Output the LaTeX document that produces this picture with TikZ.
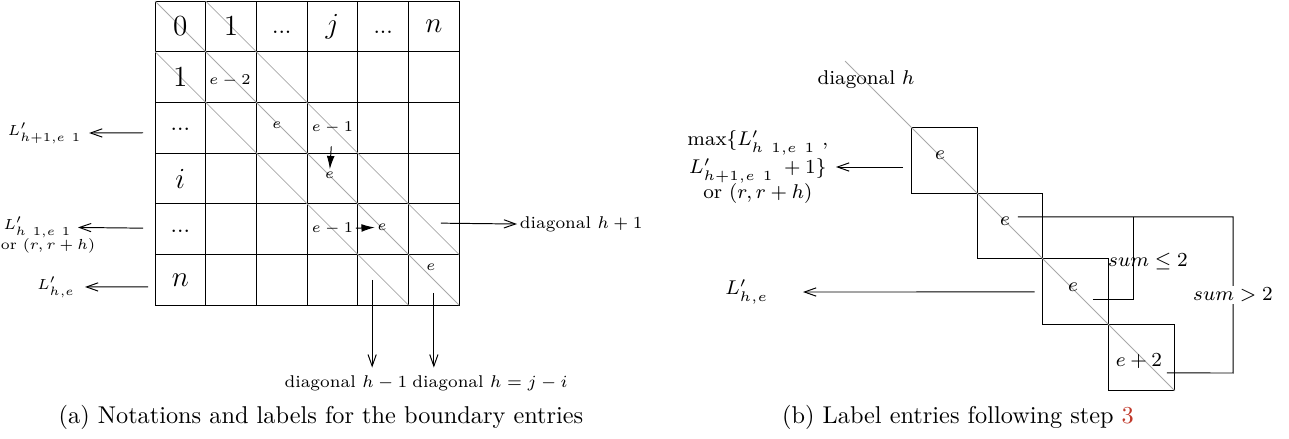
\RequirePackage{fix-cm}
\documentclass[tikz,border=0pt]{standalone}
\usepackage{xcolor}
\usepackage{tikz}
\usetikzlibrary{arrows.meta,positioning,calc}
\definecolor{diaggray}{HTML}{A8A8A8}
\definecolor{linkred}{HTML}{C0392B}
\newcommand{\nogap}{\mkern7mu}
\tikzset{%
  gridcell/.style={draw,minimum size=7.33mm,inner sep=0pt,outer sep=0pt},
  bigentry/.style={font=\fontsize{12}{14}\selectfont},
  dotsentry/.style={font=\fontsize{9.5}{11}\selectfont,inner sep=0pt},
  smallentry/.style={font=\fontsize{6.2}{8}\selectfont,inner sep=1pt},
  sidelabel/.style={font=\fontsize{6}{7.5}\selectfont,inner sep=1pt},
  diaglabel/.style={font=\fontsize{7}{9}\selectfont,inner xsep=1pt,inner ysep=3pt},
  stepbox/.style={draw,minimum size=9.54mm,inner sep=0pt,outer sep=0pt},
  boxentry/.style={font=\fontsize{8.2}{10}\selectfont,inner sep=1pt},
  diagonalline/.style={draw=diaggray,line width=0.3pt},
  openarrow/.style={-{Straight Barb[length=4.8pt,width=3.4pt]}},
  fillarrow/.style={-{Latex[length=5.5pt,width=3.2pt]}},
  captiontext/.style={font=\fontsize{10}{12}\selectfont}
}
\begin{document}
\begin{tikzpicture}[x=0.1446mm,y=-0.1446mm]
  \useasboundingbox (0,0) rectangle (1289,438);

  % (a) the table
  \foreach \r in {0,...,5}
    \foreach \c in {0,...,5}
      \node[gridcell] (c-\r-\c) at ({155+50.7*(\c+0.5)},{1+50.7*(\r+0.5)}) {};
  \draw[diagonalline] (c-0-0.north west) -- (c-5-5.south east);
  \draw[diagonalline] (c-0-1.north west) -- (c-4-5.south east);
  \draw[diagonalline] (c-1-0.north west) -- (c-5-4.south east);

  \foreach \c/\t in {0/$0$,1/$1$,3/$j$,5/$n$}
    \node[bigentry] (top-\c) at (c-0-\c) {\t};
  \foreach \c in {2,4}
    \node[dotsentry] (topdots-\c) at ([shift={(0,6)}]c-0-\c) {...};
  \foreach \r/\t in {1/$1$,3/$i$,5/$n$}
    \node[bigentry] (left-\r) at (c-\r-0) {\t};
  \foreach \r in {2,4}
    \node[dotsentry] (leftdots-\r) at ([shift={(0,2)}]c-\r-0) {...};

  \node[smallentry] (e11) at ([shift={(-1,4)}]c-1-1) {$e-2$};
  \node[smallentry] (e22) at ([shift={(-5,-3)}]c-2-2) {$e$};
  \node[smallentry] (e23) at (c-2-3) {$e-1$};
  \node[smallentry] (e33) at ([shift={(-3,-3)}]c-3-3) {$e$};
  \node[smallentry] (e43) at (c-4-3) {$e-1$};
  \node[smallentry] (e44) at ([shift={(-1,-2)}]c-4-4) {$e$};
  \node[smallentry] (e55) at ([shift={(-3,-13)}]c-5-5) {$e$};
  \draw[fillarrow,shorten <=4pt] (e23) -- (e33);
  \draw[fillarrow] (e43) -- (e44);

  % labels round the table
  \node[sidelabel,anchor=west] (lhp) at (5,133) {$L'_{h+1,e\nogap1}$};
  \node[sidelabel,anchor=east,inner xsep=2.5pt] (lhm) at (78,227) {$L'_{h\nogap1,e\nogap1}$};
  \node[sidelabel] (lhm-or) at (48,246) {or $(r,r+h)$};
  \node[sidelabel,anchor=east,inner xsep=4pt] (lhe) at (85,287) {$L'_{h,e}$};
  \draw[openarrow] ([shift={(-12,5)}]c-2-0.west) -- ([xshift=2pt]lhp.east);
  \draw[openarrow] ([shift={(-12,-1)}]c-4-0.west) -- (lhm);
  \draw[openarrow] ([shift={(-7,7)}]c-5-0.west) -- (lhe);

  \node[diaglabel,anchor=west] (dhp) at (517,224) {diagonal $h+1$};
  \node[diaglabel] (dhm) at (346,383) {diagonal $h-1$};
  \node[diaglabel] (dh) at (490,383) {diagonal $h=j-i$};
  \coordinate (dhp-from) at ([shift={(7,-6)}]c-4-5.center);
  \coordinate (dhm-from) at ([shift={(-11,0)}]c-5-4.center);
  \coordinate (dh-from) at ([shift={(0,13)}]c-5-5.center);
  \draw[openarrow] (dhp-from) -- (dhp.west);
  \draw[openarrow] (dhm-from) -- (dhm-from |- dhm.north);
  \draw[openarrow] (dh-from) -- (dh-from |- dh.north);

  \node[captiontext] (capa) at (321,417) {(a) Notations and labels for the boundary entries};

  % (b) the step
  \coordinate (dtop) at (845,61);
  \node[stepbox] (b1) at (944,160) {};
  \node[stepbox,below right=0pt and 0pt of b1] (b2) {};
  \node[stepbox,below right=0pt and 0pt of b2] (b3) {};
  \node[stepbox,below right=0pt and 0pt of b3] (b4) {};
  \draw[diagonalline] (dtop) -- (b4.south east);
  \node[boxentry] (diagh) at (866,80) {diagonal $h$};

  \node[boxentry] (f1) at ([shift={(-4,-5)}]b1) {$e$};
  \node[boxentry] (f2) at ([shift={(-5,-5)}]b2) {$e$};
  \node[boxentry] (f3) at ([shift={(-3,-5)}]b3) {$e$};
  \node[boxentry] (f4) at ([shift={(-3,3)}]b4) {$e+2$};

  \node[boxentry,align=center,anchor=east,inner xsep=3pt] (maxlab) at (836,167)
    {$\max\{L'_{h\nogap1,e\nogap1}$\ ,\\[1.5pt]$L'_{h+1,e\nogap1}\;+1\}$\\or $(r,r+h)$};
  \draw[openarrow] ([shift={(-8,7)}]b1.west) -- (maxlab);
  \coordinate (lhe-tip) at (803,292);
  \node[boxentry,left=4.6mm of lhe-tip] (lhe2) {$L'_{h,e}$};
  \draw[openarrow] ([xshift=-1.2mm]b3.west) -- (lhe-tip);

  \coordinate (gt-c) at (1233,373);
  \coordinate (le-c) at (1133,217);
  \draw ([shift={(13,-4)}]f2.center) -| node[boxentry,fill=white,pos=0.75] (gt) {$sum>2$} (gt-c)
    -- ([shift={(28,12)}]f4.center);
  \draw ([shift={(20,13)}]f3.center) -| (le-c);
  \node[boxentry] (le) at (1148,262) {$sum\leq 2$};

  \node[captiontext] (capb) at (958,417) {(b) Label entries following step \textcolor{linkred}{3}};
\end{tikzpicture}
\end{document}
